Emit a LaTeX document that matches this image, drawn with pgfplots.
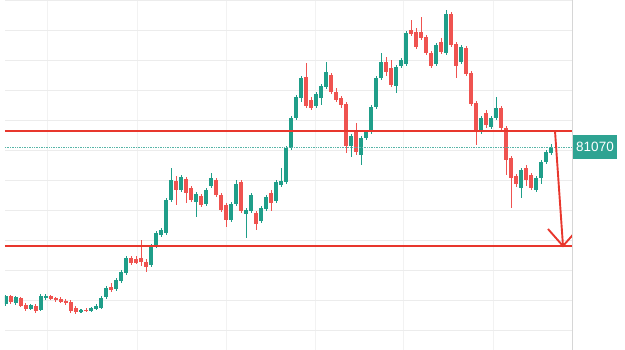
\documentclass[border=0pt]{standalone}
\usepackage{pgfplots}
\pgfplotsset{compat=1.18}
\usepackage{pgfplotstable}
\usepackage{fontspec}
\setmainfont{Liberation Sans}
\definecolor{upc}{HTML}{1F9E89}
\definecolor{dnc}{HTML}{EF5350}
\definecolor{lvl}{HTML}{E8372D}
\definecolor{lbl}{HTML}{2EA392}
\definecolor{gridc}{HTML}{ECECEC}

\pgfplotstableread{
i o h l c
0 77930 78110 77890 78090
2 77950 78090 77910 78070
5 77830 77930 77810 77910
7 77810 78130 77790 78090
8 78050 78130 78010 78090
15 77770 77830 77750 77810
17 77790 77870 77770 77850
18 77830 77930 77810 77890
19 77850 78090 77830 78050
20 78070 78290 78030 78250
22 78230 78450 78190 78410
23 78390 78610 78350 78570
24 78550 78890 78510 78850
29 78710 79130 78670 79090
30 79090 79390 79050 79350
31 79310 79450 79270 79410
32 79350 80050 79310 80010
33 80010 80650 79970 80410
35 80210 80510 80170 80470
38 79970 80170 79670 80130
40 79930 80250 79890 80210
41 80290 80550 80250 80450
45 79610 79970 79570 79930
46 79930 80410 79890 80330
48 79730 79850 79250 79810
49 79790 80150 79750 80110
51 79590 79890 79550 79850
52 79830 80110 79790 80070
54 79990 80410 79950 80370
55 80310 80650 80270 80390
56 80370 81090 80330 81050
57 81050 81690 81010 81650
58 81650 82110 81610 82070
59 82050 82490 81970 82450
62 81890 82170 81850 82130
63 82050 82330 81910 82290
64 82270 82770 82230 82570
69 81090 81330 80870 81290
71 80910 81290 80710 81250
72 81250 81410 81210 81370
73 81370 81910 81330 81870
74 81870 82490 81830 82450
75 82450 82950 82410 82770
78 82290 82710 82150 82670
79 82690 82850 82650 82810
80 82730 83390 82690 83350
86 82730 83150 82690 83110
88 82950 83810 82910 83730
91 82770 83110 82730 83070
95 81370 81690 81330 81650
97 81470 81690 81430 81650
98 81650 82070 81610 81850
103 80250 80650 80050 80610
106 80210 80490 80170 80450
107 80450 80810 80330 80770
108 80770 81010 80730 80970
109 80950 81130 80910 81070
}\upcandles

\pgfplotstableread{
i o h l c
1 78090 78110 77930 77970
3 78050 78070 77870 77890
4 77910 77950 77790 77830
6 77890 77930 77750 77790
9 78090 78110 78010 78030
10 78050 78070 77970 78010
11 78030 78070 77950 77970
12 77990 78030 77910 77950
13 77970 78010 77750 77790
14 77850 77890 77730 77770
16 77810 77850 77770 77790
21 78270 78350 78170 78210
25 78850 78890 78710 78750
26 78830 78890 78730 78750
27 78850 79210 78690 78770
28 78770 78830 78570 78670
34 80390 80490 79910 80210
36 80430 80470 79950 80150
37 80250 80290 79970 80010
39 80090 80130 79870 79910
42 80410 80450 80070 80110
43 80110 80150 79770 79810
44 79910 79950 79470 79610
47 80370 80410 79750 79790
50 79750 79790 79410 79530
53 80150 80210 79790 79950
60 82470 82750 81850 81890
61 82010 82070 81810 81850
65 82510 82550 82130 82170
66 82170 82250 81970 82010
67 82050 82090 81850 81910
68 81930 81970 80950 81090
70 81410 81550 80910 80970
76 82770 82870 82490 82570
77 82650 82810 82270 82310
81 83410 83610 83290 83330
82 83370 83450 83030 83070
83 83370 83670 83210 83250
84 83270 83310 82910 82950
85 82950 82990 82650 82690
87 83170 83250 82930 82970
89 83730 83770 83070 83110
90 83130 83170 82450 82690
92 83050 83090 82490 82530
93 82550 82590 81890 81930
94 81950 81990 81110 81410
96 81750 81810 81450 81510
99 81850 81890 81410 81450
100 81450 81490 80510 80810
101 80850 80890 79850 80450
102 80490 80530 80270 80330
104 80650 80710 80290 80410
105 80510 80550 80210 80250
}\downcandles

\pgfplotsset{candle/.style={draw=none, mark=none, forget plot,
  error bars/.cd, y dir=plus, y explicit, error mark=none}}

\begin{document}
\begin{tikzpicture}
\useasboundingbox (0,0) rectangle (625pt,350pt);
\begin{axis}[
  at={(5pt,0pt)}, anchor=south west,
  scale only axis, width=567pt, height=350pt,
  xmin=-0.2, xmax=113.2, ymin=77010, ymax=84010,
  axis line style={draw=none},
  xtick=\empty, ytick=\empty,
  clip=true,
]
% grid
\pgfplotsinvokeforeach{8.2,26.2,44,61.8,79.4,97.4}{
  \draw[gridc!70, line width=0.8pt] (#1,77010) -- (#1,84010);
}
\pgfplotsinvokeforeach{77400,78000,78600,79200,79800,80400,81000,81600,82200,82800,83400,84000}{
  \draw[gridc, line width=0.9pt] (-0.2,#1) -- (113.2,#1);
}
% wicks
\addplot[candle, error bar style={draw=upc, line width=1pt}]
  table[x=i, y=l, y error plus expr=\thisrow{h}-\thisrow{l}] {\upcandles};
\addplot[candle, error bar style={draw=dnc, line width=1pt}]
  table[x=i, y=l, y error plus expr=\thisrow{h}-\thisrow{l}] {\downcandles};
% bodies
\addplot[candle, error bar style={draw=upc, line width=3.3pt}]
  table[x=i, y=o, y error plus expr=\thisrow{c}-\thisrow{o}] {\upcandles};
\addplot[candle, error bar style={draw=dnc, line width=3.3pt}]
  table[x=i, y=c, y error plus expr=\thisrow{o}-\thisrow{c}] {\downcandles};
% levels
\draw[lbl!80, densely dotted, line width=0.7pt] (-0.2,81070) -- (113.2,81070);
\draw[lvl, line width=2.6pt] (-0.2,81390) -- (113.2,81390);
\draw[lvl, line width=2.2pt] (-0.2,79090) -- (113.2,79090);
\draw[lvl, line width=1.9pt] (109.8,81390) -- (111.4,79090);
\draw[lvl, line width=1.9pt, line join=miter] (108.4,79430) -- (111.4,79090) -- (114.4,79430);
\end{axis}
\draw[gridc!80!gray, line width=0.8pt] (572pt,0pt) -- (572pt,350pt);
\fill[lbl] (573pt,191pt) rectangle (617pt,215pt);
\node[text=white, font=\fontsize{13.5}{15}\selectfont, inner sep=0pt] at (595pt,203.1pt) {81070};
\end{tikzpicture}
\end{document}
